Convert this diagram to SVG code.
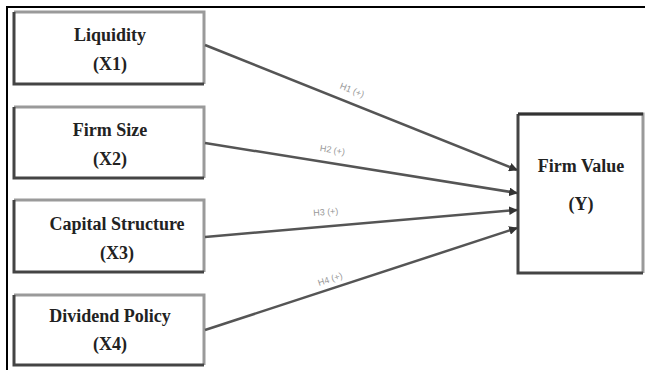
<svg xmlns="http://www.w3.org/2000/svg" width="645" height="370" viewBox="0 0 645 370">
<defs>
<style>
.frame{stroke:#000;stroke-width:2;fill:none}
.bt{stroke:#9a9a9a;stroke-width:3;fill:none}
.bd{stroke:#444;stroke-width:3;fill:none}
.t{font-family:"Liberation Serif",serif;font-weight:bold;font-size:18px;fill:#222;text-anchor:middle}
.c{stroke:#555;stroke-width:2.5;fill:none;marker-end:url(#ah)}
.l{font-family:"Liberation Sans",sans-serif;font-size:9px;fill:#999;text-anchor:middle}
</style>
<marker id="ah" viewBox="0 0 10 10" refX="9" refY="5" markerWidth="3.5" markerHeight="3.5" orient="auto" markerUnits="strokeWidth">
<path d="M0,0 L10,5 L0,10 z" fill="#333"/>
</marker>
</defs>
<rect width="645" height="370" fill="#fff"/>
<path class="frame" d="M7,370 V7 H645"/>
<g id="x1">
<rect x="14" y="12" width="190" height="72" fill="#fff" stroke="none"/>
<path class="bt" d="M14,12 H204 V84"/><path class="bd" d="M14,12 V84 H204"/>
<text class="t" x="110" y="41">Liquidity</text><text class="t" x="110" y="70">(X1)</text>
</g>
<g id="x2">
<rect x="14" y="107" width="190" height="71" fill="#fff" stroke="none"/>
<path class="bt" d="M14,107 H204 V178"/><path class="bd" d="M14,107 V178 H204"/>
<text class="t" x="110" y="136">Firm Size</text><text class="t" x="110" y="165">(X2)</text>
</g>
<g id="x3">
<rect x="14" y="200" width="190" height="72" fill="#fff" stroke="none"/>
<path class="bt" d="M14,200 H204 V272"/><path class="bd" d="M14,200 V272 H204"/>
<text class="t" x="117" y="230">Capital Structure</text><text class="t" x="117" y="259">(X3)</text>
</g>
<g id="x4">
<rect x="14" y="295" width="190" height="70" fill="#fff" stroke="none"/>
<path class="bt" d="M14,295 H204 V365"/><path class="bd" d="M14,295 V365 H204"/>
<text class="t" x="110" y="322">Dividend Policy</text><text class="t" x="110" y="350">(X4)</text>
</g>
<g id="y">
<rect x="518" y="114" width="125" height="159" fill="#fff" stroke="none"/>
<path class="bt" d="M518,114 H643 V273"/><path class="bd" d="M518,114 V273 H643"/>
<path d="M518,114 H643" stroke="#333" stroke-width="3"/>
<text class="t" x="581" y="172">Firm Value</text><text class="t" x="581" y="210">(Y)</text>
</g>
<g id="connectors">
<line class="c" x1="205" y1="45" x2="517" y2="170"/>
<line class="c" x1="205" y1="143" x2="517" y2="193"/>
<line class="c" x1="205" y1="237" x2="517" y2="210"/>
<line class="c" x1="205" y1="330" x2="517" y2="228"/>
<text class="l" transform="translate(351,93) rotate(21.8)">H1 (+)</text>
<text class="l" transform="translate(332,153) rotate(9.1)">H2 (+)</text>
<text class="l" transform="translate(326,215) rotate(-5)">H3 (+)</text>
<text class="l" transform="translate(331,282) rotate(-18)">H4 (+)</text>
</g>
</svg>
